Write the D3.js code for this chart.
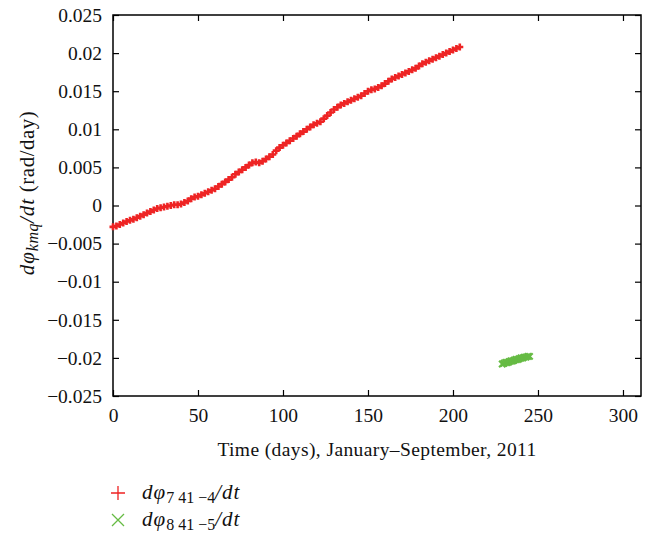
<!DOCTYPE html>
<html>
<head>
<meta charset="utf-8">
<script src="https://cdn.jsdelivr.net/npm/d3@7"></script>
<style>
  body { margin: 0; background: #fff; }
  text { font-family: "Liberation Serif", "DejaVu Serif", serif; fill: #111; }
</style>
</head>
<body>
<script>
// values
var xTicks = [0, 50, 100, 150, 200, 250, 300];
var yTicks = [-0.025, -0.02, -0.015, -0.01, -0.005, 0, 0.005, 0.01, 0.015, 0.02, 0.025];

var redDays = [0, 2, 4, 6, 8, 10, 12, 14, 16, 18, 20, 22, 24, 26, 28, 30, 32, 34, 36, 38,
  40, 42, 44, 46, 48, 50, 52, 54, 56, 58, 60, 62, 64, 66, 68, 70, 72, 74, 76, 78,
  80, 82, 84, 86, 88, 90, 92, 94, 96, 98, 100, 102, 104, 106, 108, 110, 112, 114, 116, 118,
  120, 122, 124, 126, 128, 130, 132, 134, 136, 138, 140, 142, 144, 146, 148, 150, 152, 154, 156, 158,
  160, 162, 164, 166, 168, 170, 172, 174, 176, 178, 180, 182, 184, 186, 188, 190, 192, 194, 196, 198,
  200, 202, 204];
var redRates = [-0.0028, -0.0027, -0.0025, -0.0023, -0.0021, -0.00195, -0.0018, -0.0016, -0.0014, -0.0012,
  -0.0010, -0.0008, -0.0006, -0.0004, -0.0003, -0.0002, -0.0001, 0.0000, 0.0001, 0.0001,
  0.0002, 0.0004, 0.0006, 0.0009, 0.0011, 0.0012, 0.0014, 0.0016, 0.0018, 0.0020,
  0.0022, 0.0025, 0.0028, 0.0031, 0.0034, 0.0037, 0.0041, 0.0044, 0.0047, 0.0050,
  0.0053, 0.0056, 0.0057, 0.0056, 0.0058, 0.0061, 0.0064, 0.0067, 0.0072, 0.0076,
  0.0079, 0.0082, 0.0085, 0.0088, 0.0091, 0.0094, 0.0097, 0.0100, 0.0103, 0.0106,
  0.0108, 0.0110, 0.0114, 0.0118, 0.0122, 0.0126, 0.0129, 0.0132, 0.0134, 0.0136,
  0.0138, 0.0140, 0.0142, 0.0144, 0.0147, 0.0150, 0.0152, 0.0153, 0.0155, 0.0157,
  0.0160, 0.0163, 0.0166, 0.0168, 0.0170, 0.0172, 0.0174, 0.0176, 0.0178, 0.0180,
  0.0183, 0.0186, 0.0188, 0.0190, 0.0192, 0.0194, 0.0196, 0.0198, 0.0200, 0.0202,
  0.0204, 0.0206, 0.0208];

var greenDays = [229, 230, 231, 232, 233, 234, 235, 236, 237, 238, 239, 240, 241, 242, 243, 244, 245];
var greenRates = [-0.0208, -0.0207, -0.0206, -0.0206, -0.0205, -0.0204, -0.0204, -0.0203, -0.0202,
  -0.0202, -0.0201, -0.0200, -0.0200, -0.0199, -0.0199, -0.0198, -0.0198];

var width = 652, height = 534;
var margin = {left: 113, right: 11, top: 15, bottom: 138};
var fontSize = 19.5;

var svg = d3.select("body").append("svg")
    .attr("width", width)
    .attr("height", height);

var x = d3.scaleLinear().domain([0, 310.6]).range([margin.left, width - margin.right]);
var y = d3.scaleLinear().domain([-0.025, 0.025]).range([height - margin.bottom, margin.top]);

var fmt = d3.format("~g");
var tickLen = 6;

// frame
svg.append("rect")
    .attr("x", x(0)).attr("y", y(0.025))
    .attr("width", x(310.6) - x(0)).attr("height", y(-0.025) - y(0.025))
    .attr("fill", "none").attr("stroke", "#000").attr("stroke-width", 1.5);

// inward ticks on all four sides
var xb = svg.append("g").attr("transform", "translate(0," + y(-0.025) + ")")
    .call(d3.axisBottom(x).tickValues(xTicks).tickSize(-tickLen).tickPadding(12).tickFormat(fmt));
var xt = svg.append("g").attr("transform", "translate(0," + y(0.025) + ")")
    .call(d3.axisTop(x).tickValues(xTicks).tickSize(-tickLen).tickFormat(""));
var yl = svg.append("g").attr("transform", "translate(" + x(0) + ",0)")
    .call(d3.axisLeft(y).tickValues(yTicks).tickSize(-tickLen).tickPadding(11).tickFormat(fmt));
var yr = svg.append("g").attr("transform", "translate(" + x(310.6) + ",0)")
    .call(d3.axisRight(y).tickValues(yTicks).tickSize(-tickLen).tickFormat(""));

[xb, xt, yl, yr].forEach(function(g) {
    g.select(".domain").remove();
    g.selectAll(".tick line").attr("stroke", "#000").attr("stroke-width", 1.2);
    g.selectAll("text").attr("font-size", fontSize).attr("font-family", "Liberation Serif").attr("fill", "#111");
});

// red + markers
var redPts = redDays.map(function(d, i) { return [d, redRates[i]]; });
svg.append("g").selectAll("path")
    .data(redPts)
    .join("path")
    .attr("d", "M-3.5,0H3.5M0,-3.5V3.5")
    .attr("transform", function(d) { return "translate(" + x(d[0]) + "," + y(d[1]) + ")"; })
    .attr("stroke", "#ee2424").attr("stroke-width", 2.6).attr("fill", "none");

// green x markers
var greenPts = greenDays.map(function(d, i) { return [d, greenRates[i]]; });
svg.append("g").selectAll("path")
    .data(greenPts)
    .join("path")
    .attr("d", "M-3.2,-3.2L3.2,3.2M-3.2,3.2L3.2,-3.2")
    .attr("transform", function(d) { return "translate(" + x(d[0]) + "," + y(d[1]) + ")"; })
    .attr("stroke", "#66bb44").attr("stroke-width", 2.2).attr("fill", "none");

// x axis title
svg.append("text")
    .attr("x", (x(0) + x(310.6)) / 2).attr("y", 456)
    .attr("text-anchor", "middle").attr("font-size", fontSize)
    .attr("letter-spacing", 0.4)
    .text("Time (days), January–September, 2011");

// y axis title
var yt = svg.append("text")
    .attr("transform", "translate(34,193) rotate(-90)")
    .attr("text-anchor", "middle").attr("font-size", 21);
yt.append("tspan").attr("font-style", "italic").attr("letter-spacing", 1).text("dφ");
yt.append("tspan").attr("font-style", "italic").attr("font-size", 16).attr("dy", 4).attr("letter-spacing", 0.5).text("kmq");
yt.append("tspan").attr("font-style", "italic").attr("dy", -4).attr("letter-spacing", 1).text("/dt");
yt.append("tspan").attr("letter-spacing", 0.5).text(" (rad/day)");

// legend
var legend = [
    {mark: "M-7,0H7M0,-7V7", color: "#ee2222", sub: "7 41 −4", y: 493},
    {mark: "M-6,-6L6,6M-6,6L6,-6", color: "#66bb44", sub: "8 41 −5", y: 520}
];
legend.forEach(function(l) {
    svg.append("path").attr("d", l.mark)
        .attr("transform", "translate(118," + l.y + ")")
        .attr("stroke", l.color).attr("stroke-width", 1.3).attr("fill", "none");
    var t = svg.append("text").attr("x", 142).attr("y", l.y + 6).attr("font-size", 21);
    t.append("tspan").attr("font-style", "italic").attr("letter-spacing", 1).text("dφ");
    t.append("tspan").attr("font-size", 16).attr("dy", 4).text(l.sub);
    t.append("tspan").attr("font-style", "italic").attr("dy", -4).attr("letter-spacing", 1).text("/dt");
});
</script>
</body>
</html>
